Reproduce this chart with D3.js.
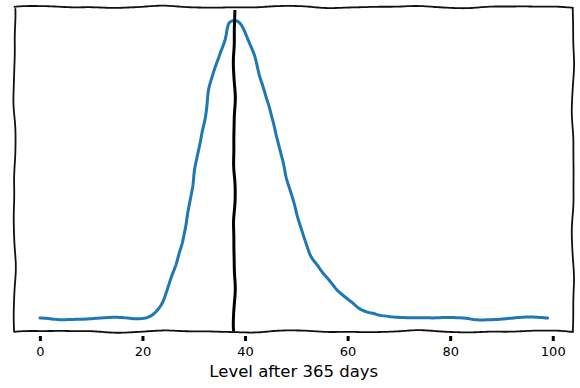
<!DOCTYPE html>
<html>
<head>
<meta charset="utf-8">
<script src="https://cdn.jsdelivr.net/npm/d3@7"></script>
<style>
  body { margin: 0; background: #fff; }
  svg { display: block; }
  text { font-family: "DejaVu Sans", sans-serif; fill: #000; }
</style>
</head>
<body>
<svg id="chart" width="580" height="388"></svg>
<script>
// level reached after 365 days (x) and its estimated density (y)
var levels = [0, 4, 8, 12, 16, 19, 20, 21, 22, 23, 24, 25, 26, 27, 28, 29, 30,
    31, 32, 33, 34, 35, 36, 37, 38, 39, 40, 41, 42, 43, 44, 45, 46, 47, 48, 49, 50,
    51, 52, 53, 54, 55, 56, 57, 58, 59, 60, 61, 62, 63, 64, 65, 66, 68, 70, 74, 78,
    82, 86, 90, 94, 99];
var density = [0.0007, 0.0006, 0.00065, 0.00075, 0.00075, 0.0007, 0.00075, 0.00085,
    0.0011, 0.0016, 0.0024, 0.0037, 0.0053, 0.0071, 0.0087, 0.0115, 0.0150,
    0.0175, 0.0203, 0.0235, 0.0255, 0.0270, 0.0285, 0.0302, 0.0304, 0.0301, 0.0293,
    0.0281, 0.0268, 0.0245, 0.0229, 0.0215, 0.0192, 0.0170, 0.0150, 0.0133, 0.0112,
    0.0095, 0.0081, 0.0069, 0.0061, 0.0053, 0.0047, 0.0041, 0.0035, 0.00305, 0.00265,
    0.0023, 0.00185, 0.00155, 0.00135, 0.0012, 0.0010, 0.00085, 0.0008, 0.0008, 0.0008,
    0.0007, 0.0006, 0.00065, 0.0008, 0.00075];
var xTicks = [0, 20, 40, 60, 80, 100];
var meanLevel = 37.9;
var xLabel = "Level after 365 days";

var svg = d3.select("#chart");

// axes box (matplotlib style margins around the data)
var x = d3.scaleLinear().domain([-4.95, 103.95]).range([14.5, 573]);
var y = d3.scaleLinear().domain([-0.0006, 0.0318]).range([331.5, 7]);

// small deterministic PRNG for the hand-drawn wiggle
function mulberry32(a) {
    return function() {
        a |= 0; a = a + 0x6D2B79F5 | 0;
        var t = Math.imul(a ^ a >>> 15, 1 | a);
        t = t + Math.imul(t ^ t >>> 7, 61 | t) ^ t;
        return ((t ^ t >>> 14) >>> 0) / 4294967296;
    };
}

// resample a path and push it sideways a little, xkcd style
function wobble(d, amp, len, seed) {
    var tmp = svg.append("path").attr("d", d).attr("fill", "none");
    var node = tmp.node(), total = node.getTotalLength();
    var rnd = mulberry32(seed);
    var p = [rnd(), rnd(), rnd()].map(function(v) { return v * Math.PI * 2; });
    var n = Math.max(2, Math.ceil(total / 2));
    var pts = [];
    for (var i = 0; i <= n; i++) {
        var s = total * i / n;
        var a = node.getPointAtLength(Math.max(0, s - 0.75)),
            b = node.getPointAtLength(Math.min(total, s + 0.75)),
            c = node.getPointAtLength(s);
        var dx = b.x - a.x, dy = b.y - a.y, l = Math.hypot(dx, dy) || 1;
        var off = amp * (0.65 * Math.sin(2 * Math.PI * s / len + p[0]) +
            0.3 * Math.sin(2 * Math.PI * s / (len * 0.55) + p[1]) +
            0.08 * Math.sin(2 * Math.PI * s / (len * 0.3) + p[2]));
        pts.push([c.x - dy / l * off, c.y + dx / l * off]);
    }
    tmp.remove();
    return d3.line()(pts);
}

var x0 = x.range()[0], x1 = x.range()[1], yb = y.range()[0], yt = y.range()[1];

// frame
var spines = [
    [[x0, yt], [x1, yt]],
    [[x0, yb], [x1, yb]],
    [[x0, yt + 2], [x0, yb]],
    [[x1, yt + 2], [x1, yb]]
];
svg.append("g").attr("class", "spines")
    .selectAll("path")
    .data(spines)
    .enter().append("path")
    .attr("d", function(d, i) { return wobble(d3.line()(d), 1.3, 120, 11 + i * 7); })
    .attr("fill", "none")
    .attr("stroke", "#111")
    .attr("stroke-width", 1.8)
    .attr("stroke-linecap", "round");

// density curve
var line = d3.line()
    .x(function(d, i) { return x(levels[i]); })
    .y(function(d) { return y(d); })
    .curve(d3.curveMonotoneX);

svg.append("path")
    .attr("d", wobble(line(density), 0.7, 70, 5))
    .attr("fill", "none")
    .attr("stroke", "#1f77b4")
    .attr("stroke-width", 3)
    .attr("stroke-linejoin", "round")
    .attr("stroke-linecap", "round");

// mean marker
svg.append("path")
    .attr("d", wobble(d3.line()([[x(meanLevel), yt + 3], [x(meanLevel), yb]]), 1.1, 90, 3))
    .attr("fill", "none")
    .attr("stroke", "#000")
    .attr("stroke-width", 3);

// x axis
var xAxis = d3.axisBottom(x)
    .tickValues(xTicks)
    .tickSize(5)
    .tickPadding(6);

var gx = svg.append("g")
    .attr("transform", "translate(0," + (yb + 4.5) + ")")
    .call(xAxis);
gx.select(".domain").remove();
gx.selectAll(".tick line").attr("stroke", "#000").attr("stroke-width", 3);
gx.selectAll(".tick text")
    .style("font-family", "'DejaVu Sans', sans-serif")
    .style("font-size", "13px")
    .attr("fill", "#000");

svg.append("text")
    .attr("x", (x0 + x1) / 2)
    .attr("y", 376.5)
    .attr("text-anchor", "middle")
    .style("font-size", "16.5px")
    .text(xLabel);
</script>
</body>
</html>
